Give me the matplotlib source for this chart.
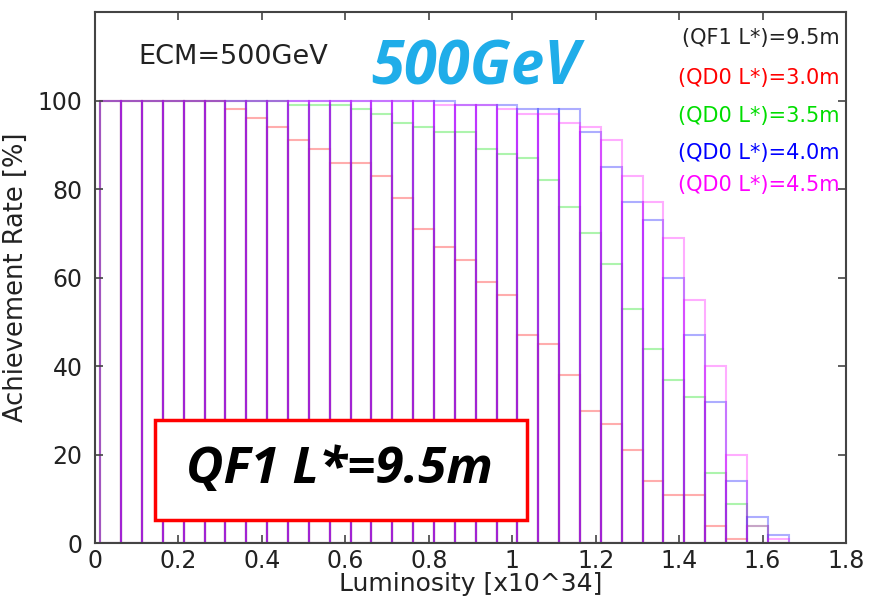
"""
Achievement rate vs luminosity, ECM=500GeV, QF1 L*=9.5m
"""

import matplotlib
matplotlib.use("Agg")
import matplotlib.pyplot as plt
from matplotlib.patches import Rectangle
from matplotlib.ticker import FormatStrFormatter

# Bins of luminosity [x10^34], width 0.05 (left edges)
bin_width = 0.05
bin_left = [0.0125 + bin_width * i for i in range(33)]

# Achievement rate [%] per bin for each QD0 L*
rate_qd0_30 = [100, 100, 100, 100, 100, 100, 98, 96, 94, 91, 89, 86, 86, 83, 78, 71,
               67, 64, 59, 56, 47, 45, 38, 30, 27, 21, 14, 11, 11, 4, 1, 0, 0]
rate_qd0_35 = [100, 100, 100, 100, 100, 100, 100, 100, 100, 99, 99, 99, 98, 97, 95, 94,
               93, 93, 89, 88, 87, 82, 76, 70, 63, 53, 44, 37, 33, 16, 9, 4, 0]
rate_qd0_40 = [100, 100, 100, 100, 100, 100, 100, 100, 100, 100, 100, 100, 100, 100, 100, 100,
               100, 99, 99, 99, 98, 98, 98, 93, 85, 77, 73, 60, 47, 32, 14, 6, 2]
rate_qd0_45 = [100, 100, 100, 100, 100, 100, 100, 100, 100, 100, 100, 100, 100, 100, 100, 100,
               99, 99, 99, 98, 97, 97, 95, 94, 91, 83, 77, 69, 55, 40, 20, 4, 1]

series_labels = ["(QD0 L*)=3.0m", "(QD0 L*)=3.5m", "(QD0 L*)=4.0m", "(QD0 L*)=4.5m"]
series_colors = ["#ff0000", "#00dd00", "#0000ff", "#ff00ff"]

x_ticks = [0, 0.2, 0.4, 0.6, 0.8, 1.0, 1.2, 1.4, 1.6, 1.8]
y_ticks = [0, 20, 40, 60, 80, 100]


def main():
    fig = plt.figure(figsize=(8.69, 6.03), dpi=100)
    ax = fig.add_axes([0.1093, 0.0987, 0.8642, 0.8814])

    # Barras sem preenchimento, sobrepostas
    all_rates = [rate_qd0_30, rate_qd0_35, rate_qd0_40, rate_qd0_45]
    for rates, color in zip(all_rates, series_colors):
        ax.bar(bin_left, rates, width=bin_width, align="edge", fill=False,
               edgecolor=matplotlib.colors.to_rgba(color, 0.32), linewidth=1.5)

    ax.set_xlim(0, 1.8)
    ax.set_ylim(0, 120)
    ax.set_xticks(x_ticks)
    ax.set_yticks(y_ticks)
    ax.xaxis.set_major_formatter(FormatStrFormatter("%g"))
    ax.tick_params(direction="in", top=True, right=True, length=6, width=1.2,
                   labelsize=17, color="#444444", labelcolor="#222222")
    ax.tick_params(axis="x", pad=4)
    ax.tick_params(axis="y", pad=9)
    for spine in ax.spines.values():
        spine.set_color("#444444")
        spine.set_linewidth(1.5)

    ax.set_xlabel("Luminosity [x10^34]", fontsize=18, labelpad=-1, color="#222222")
    ax.set_ylabel("Achievement Rate [%]", fontsize=18.5, labelpad=6, color="#222222")

    # Textos
    ax.text(0.184, 0.915, "ECM=500GeV", transform=ax.transAxes, fontsize=19.5,
            ha="center", va="center", color="#222222")
    ax.text(0.507, 0.893, "500GeV", transform=ax.transAxes, fontsize=43,
            ha="center", va="center", color="#1fade9", fontweight="bold",
            style="italic", family=["Open Sans", "DejaVu Sans"])

    # Legenda manual (texto colorido)
    ax.text(0.992, 0.951, "(QF1 L*)=9.5m", transform=ax.transAxes, fontsize=15,
            ha="right", va="center", color="#222222")
    legend_y = [0.876, 0.804, 0.735, 0.674]
    for label, color, y in zip(series_labels, series_colors, legend_y):
        ax.text(0.992, y, label, transform=ax.transAxes, fontsize=15,
                ha="right", va="center", color=color)

    # Caixa QF1
    box = Rectangle((0.0799, 0.0442), 0.495, 0.188, transform=ax.transAxes,
                    facecolor="white", edgecolor="#ff0000", linewidth=2.5, zorder=5)
    ax.add_patch(box)
    ax.text(0.326, 0.138, "QF1 L*=9.5m", transform=ax.transAxes, fontsize=37,
            ha="center", va="center", color="black", fontweight="bold",
            style="italic", family=["Open Sans", "DejaVu Sans"], zorder=6)

    fig.savefig("out.png", dpi=100)


if __name__ == "__main__":
    main()
